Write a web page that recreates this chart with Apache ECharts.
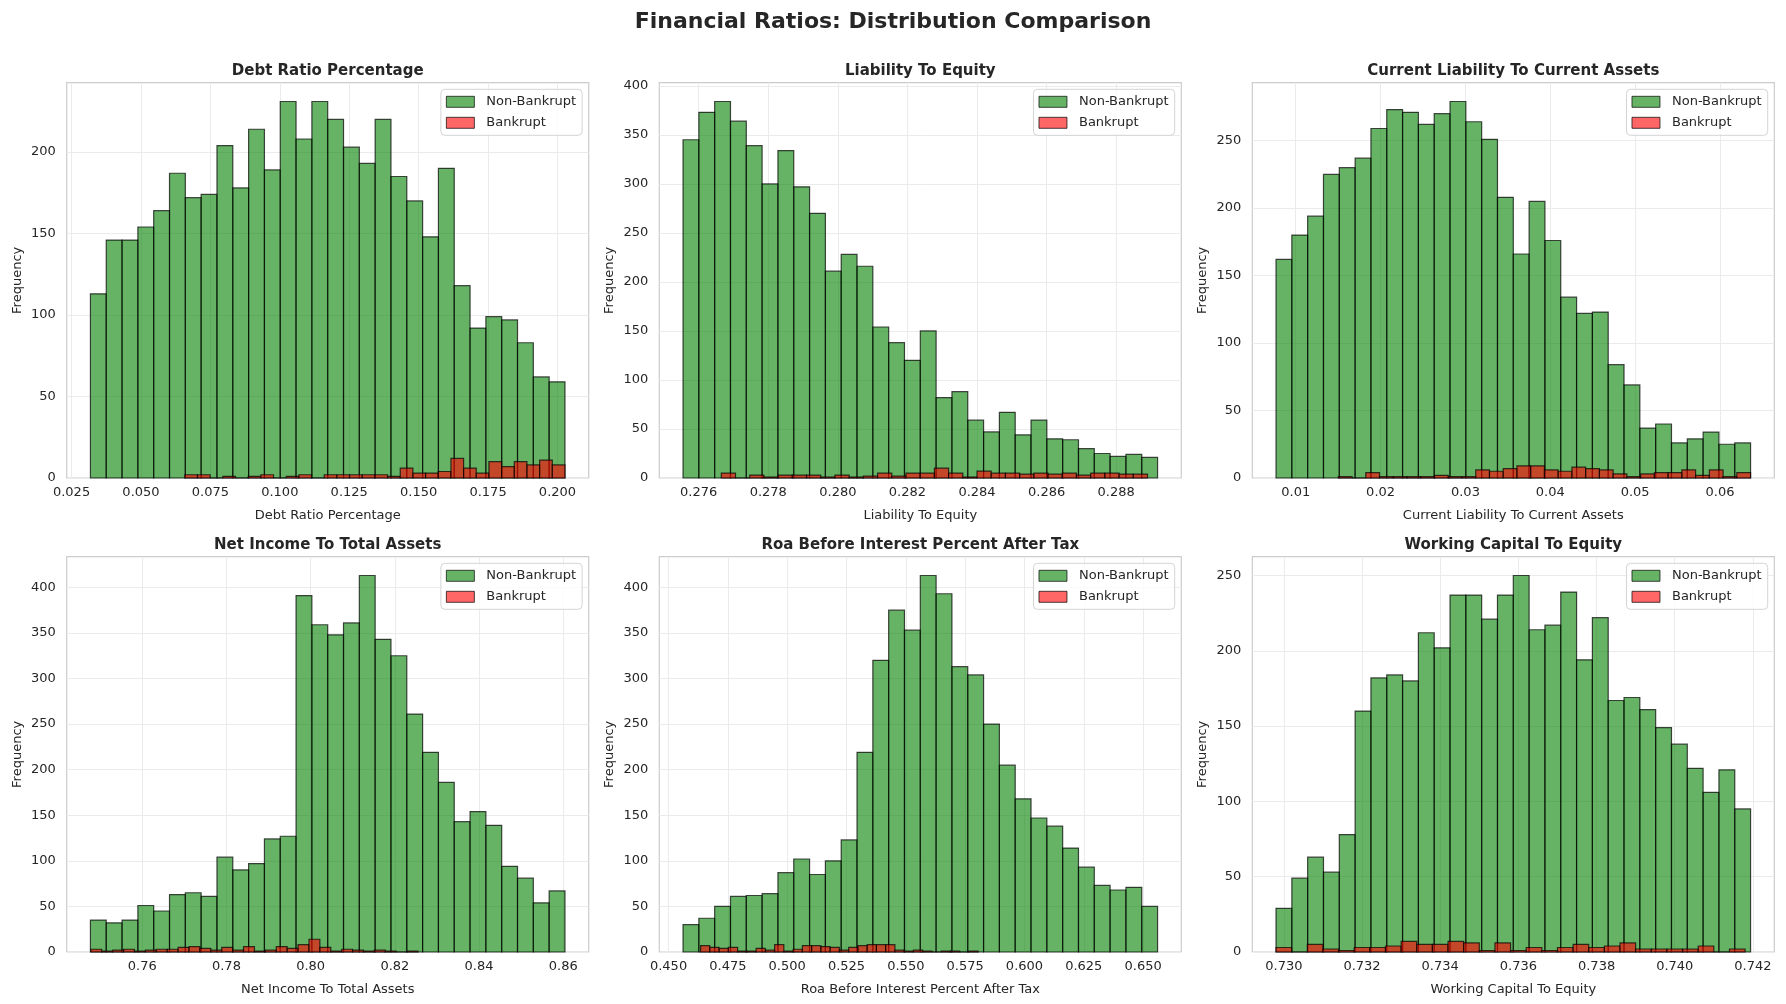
<!DOCTYPE html>
<html>
<head>
<meta charset="utf-8">
<title>Financial Ratios: Distribution Comparison</title>
<script src="https://cdn.jsdelivr.net/npm/echarts@6/dist/echarts.min.js"></script>
<style>
  html, body { margin: 0; padding: 0; background: #fff; }
  #chart { width: 1786px; height: 1004px; }
</style>
</head>
<body>
<div id="chart"></div>
<script>
// histogram counts, 30 bins per series
// ranges are [first bin left edge, last bin right edge]
const panelTitles = [
  'Debt Ratio Percentage', 'Liability To Equity', 'Current Liability To Current Assets',
  'Net Income To Total Assets', 'Roa Before Interest Percent After Tax', 'Working Capital To Equity'
]

const debtGreenRange = [0.0318, 0.2027]
const debtGreen = [113, 146, 146, 154, 164, 187, 172, 174, 204, 178, 214, 189, 231, 208, 231,
  220, 203, 193, 220, 185, 170, 148, 190, 118, 92, 99, 97, 83, 62, 59]
const debtRedRange = [0.0658, 0.2027]
const debtRed = [2, 2, 0, 1, 0, 1, 2, 0, 1, 2, 0, 2, 2, 2, 2, 2, 1, 6, 3, 3, 4, 12, 6, 3, 10, 7, 10, 8, 11, 8]
const debtTicks = ['0.025', '0.050', '0.075', '0.100', '0.125', '0.150', '0.175', '0.200']
const debtFreqTicks = [0, 50, 100, 150, 200]

const liabGreenRange = [0.27555, 0.28919]
const liabGreen = [345, 373, 384, 364, 339, 300, 334, 297, 270, 211, 228, 216, 154, 138, 120,
  150, 82, 88, 59, 47, 67, 44, 59, 40, 39, 30, 25, 22, 24, 21]
const liabRedRange = [0.27665, 0.2889]
const liabRed = [5, 0, 3, 1, 3, 3, 3, 1, 3, 1, 2, 5, 2, 5, 5, 10, 5, 1, 7, 5, 5, 4, 5, 4, 5, 3, 5, 5, 4, 4]
const liabTicks = ['0.276', '0.278', '0.280', '0.282', '0.284', '0.286', '0.288']
const liabFreqTicks = [0, 50, 100, 150, 200, 250, 300, 350, 400]

const currGreenRange = [0.00768, 0.0636]
const currGreen = [162, 180, 194, 225, 230, 237, 259, 273, 271, 262, 270, 279, 264, 251, 208,
  166, 205, 176, 134, 122, 123, 84, 69, 37, 40, 26, 29, 34, 25, 26]
const currRedRange = [0.01502, 0.0636]
const currRed = [1, 0, 4, 1, 1, 1, 1, 2, 1, 1, 6, 5, 7, 9, 9, 6, 5, 8, 7, 6, 3, 1, 3, 4, 4, 6, 2, 6, 1, 4]
const currTicks = ['0.01', '0.02', '0.03', '0.04', '0.05', '0.06']
const currFreqTicks = [0, 50, 100, 150, 200, 250]

const netGreenRange = [0.7477, 0.8604]
const netGreen = [35, 32, 35, 51, 45, 63, 65, 61, 104, 90, 97, 124, 127, 391, 359,
  348, 361, 413, 343, 325, 261, 219, 186, 143, 154, 139, 94, 81, 54, 67]
const netRedRange = [0.7478, 0.8255]
const netRed = [3, 1, 2, 3, 1, 2, 3, 3, 5, 6, 4, 2, 5, 2, 6, 1, 2, 6, 4, 8, 14, 5, 1, 3, 2, 1, 2, 1, 0, 1]
const netTicks = ['0.76', '0.78', '0.80', '0.82', '0.84', '0.86']
const netFreqTicks = [0, 50, 100, 150, 200, 250, 300, 350, 400]

const roaGreenRange = [0.4561, 0.6561]
const roaGreen = [30, 37, 50, 61, 62, 64, 87, 102, 85, 100, 123, 219, 320, 375, 353,
  413, 393, 313, 304, 250, 205, 168, 147, 138, 114, 93, 73, 68, 71, 50]
const roaRedRange = [0.4635, 0.5805]
const roaRed = [7, 5, 4, 5, 1, 1, 4, 2, 8, 1, 3, 7, 7, 6, 5, 2, 5, 7, 8, 8, 8, 2, 1, 2, 1, 0, 1, 1, 0, 1]
const roaTicks = ['0.450', '0.475', '0.500', '0.525', '0.550', '0.575', '0.600', '0.625', '0.650']
const roaFreqTicks = [0, 50, 100, 150, 200, 250, 300, 350, 400]

const wcGreenRange = [0.7298, 0.74194]
const wcGreen = [29, 49, 63, 53, 78, 160, 182, 184, 180, 212, 202, 237, 237, 221, 237,
  250, 214, 217, 239, 194, 222, 167, 169, 161, 149, 138, 122, 106, 121, 95]
const wcRedRange = [0.7298, 0.7418]
const wcRed = [3, 0, 5, 2, 1, 3, 3, 4, 7, 5, 5, 7, 6, 1, 6, 1, 3, 1, 3, 5, 3, 4, 6, 2, 2, 2, 2, 4, 0, 2]
const wcTicks = ['0.730', '0.732', '0.734', '0.736', '0.738', '0.740', '0.742']
const wcFreqTicks = [0, 50, 100, 150, 200, 250]

const panels = [
  [debtGreenRange, debtGreen, debtRedRange, debtRed, debtTicks, debtFreqTicks],
  [liabGreenRange, liabGreen, liabRedRange, liabRed, liabTicks, liabFreqTicks],
  [currGreenRange, currGreen, currRedRange, currRed, currTicks, currFreqTicks],
  [netGreenRange, netGreen, netRedRange, netRed, netTicks, netFreqTicks],
  [roaGreenRange, roaGreen, roaRedRange, roaRed, roaTicks, roaFreqTicks],
  [wcGreenRange, wcGreen, wcRedRange, wcRed, wcTicks, wcFreqTicks]
]

const W = 1786
const FONT = 'DejaVu Sans'
const TEXT = '#262626'
const gridLefts = [66.7, 659.3, 1252.3]
const gridTops = [82.7, 556.7]
const gridW = 522
const gridH = 395.3
const GREEN = 'rgba(0,128,0,0.6)'
const RED = 'rgba(255,0,0,0.6)'
const EDGE = 'rgba(0,0,0,0.7)'

function toBins(range, counts) {
  const step = (range[1] - range[0]) / counts.length
  return counts.map((c, i) => [range[0] + i * step, range[0] + (i + 1) * step, c])
}

function binRenderer(fill) {
  return (params, api) => {
    const top = api.coord([api.value(0), api.value(2)])
    const bottom = api.coord([api.value(1), 0])
    return {
      type: 'rect',
      shape: { x: top[0], y: top[1], width: bottom[0] - top[0], height: bottom[1] - top[1] },
      style: { fill, stroke: EDGE, lineWidth: 1.2 }
    }
  }
}

const grids = [], xAxes = [], yAxes = [], series = [], legends = []
const graphics = [{
  type: 'text', x: W / 2, y: 22.5,
  style: { text: 'Financial Ratios: Distribution Comparison', font: 'bold 22px "DejaVu Sans"',
    fill: TEXT, align: 'center', verticalAlign: 'middle' }
}]

panels.forEach(([gRange, gCounts, rRange, rCounts, tickLabels, freqTicks], i) => {
  const left = gridLefts[i % 3]
  const top = gridTops[Math.floor(i / 3)]
  grids.push({ left, top, width: gridW, height: gridH, show: true,
    borderColor: '#cccccc', borderWidth: 1.2, containLabel: false })

  // matplotlib style 5% margins around the data
  const lo = Math.min(gRange[0], rRange[0])
  const hi = Math.max(gRange[1], rRange[1])
  const pad = (hi - lo) * 0.05
  const tickVals = tickLabels.map(parseFloat)
  const yMax = Math.max(...gCounts, ...rCounts) * 1.05

  xAxes.push({
    gridIndex: i, type: 'value', min: lo - pad, max: hi + pad,
    name: panelTitles[i], nameLocation: 'middle', nameGap: 31,
    nameTextStyle: { fontFamily: FONT, fontSize: 13, color: TEXT },
    axisLine: { show: false },
    axisTick: { show: false, customValues: tickVals },
    axisLabel: {
      customValues: tickVals, margin: 8, fontFamily: FONT, fontSize: 13, color: TEXT,
      formatter: v => {
        const k = tickVals.findIndex(t => Math.abs(t - v) < 1e-9)
        return k < 0 ? '' : tickLabels[k]
      }
    },
    splitLine: { show: true, lineStyle: { color: '#ebebeb', width: 1 } }
  })
  yAxes.push({
    gridIndex: i, type: 'value', min: 0, max: yMax,
    name: 'Frequency', nameLocation: 'middle', nameGap: 43,
    nameTextStyle: { fontFamily: FONT, fontSize: 13, color: TEXT },
    axisLine: { show: false },
    axisTick: { show: false, customValues: freqTicks },
    axisLabel: { customValues: freqTicks, margin: 11, fontFamily: FONT, fontSize: 13, color: TEXT },
    splitLine: { show: true, lineStyle: { color: '#ebebeb', width: 1 } }
  })

  series.push({
    name: 'Non-Bankrupt', type: 'custom', xAxisIndex: i, yAxisIndex: i,
    renderItem: binRenderer(GREEN), encode: { x: [0, 1], y: 2 },
    itemStyle: { color: GREEN, borderColor: EDGE, borderWidth: 1 },
    data: toBins(gRange, gCounts), z: 2, silent: true
  })
  series.push({
    name: 'Bankrupt', type: 'custom', xAxisIndex: i, yAxisIndex: i,
    renderItem: binRenderer(RED), encode: { x: [0, 1], y: 2 },
    itemStyle: { color: RED, borderColor: EDGE, borderWidth: 1 },
    data: toBins(rRange, rCounts), z: 3, silent: true
  })

  legends.push({
    orient: 'vertical', right: W - (left + gridW - 6.6), top: top + 6.6,
    data: ['Non-Bankrupt', 'Bankrupt'], selectedMode: false,
    icon: 'rect', itemWidth: 28, itemHeight: 11, itemGap: 8,
    padding: [6, 6, 6, 5],
    backgroundColor: 'rgba(255,255,255,0.8)', borderColor: '#d4d4d4', borderWidth: 1, borderRadius: 4,
    itemStyle: { borderColor: EDGE, borderWidth: 1 },
    textStyle: { fontFamily: FONT, fontSize: 13, color: TEXT, padding: [0, 0, 0, 7] }
  })

  graphics.push({
    type: 'text', x: left + gridW / 2, y: top - 12,
    style: { text: panelTitles[i], font: 'bold 15px "DejaVu Sans"', fill: TEXT,
      align: 'center', verticalAlign: 'middle' }
  })
})

const chart = echarts.init(document.getElementById('chart'), null, { renderer: 'canvas' })
chart.setOption({
  backgroundColor: '#ffffff',
  animation: false,
  textStyle: { fontFamily: FONT },
  grid: grids,
  xAxis: xAxes,
  yAxis: yAxes,
  legend: legends,
  series,
  graphic: graphics
})
</script>
</body>
</html>
